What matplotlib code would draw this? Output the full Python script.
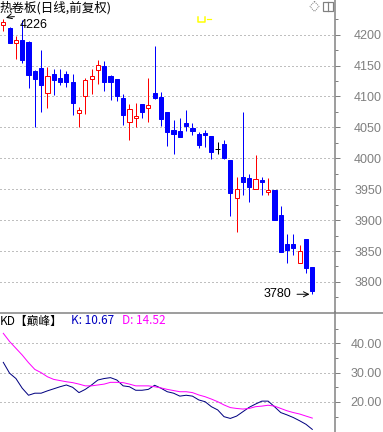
import numpy as np
import matplotlib.pyplot as plt
from matplotlib.patches import Polygon, Rectangle

# daily candles (open, high, low, close)
opens = [4215, 4211, 4187, 4191, 4188, 4141, 4146, 4106, 4136, 4130,
         4136, 4123, 4074, 4101, 4129, 4143, 4149, 4133, 4128, 4098,
         4058, 4065, 4088, 4082, 4106, 4099, 4075, 4046, 4044, 4057,
         4049, 4039, 4041, 4036, 4015, 4023, 3997, 3936, 3969, 3968,
         3951, 3965, 3945, 3949, 3908, 3862, 3862, 3831, 3869, 3824]
highs = [4226, 4212, 4198, 4224, 4190, 4143, 4175, 4148, 4145, 4144,
         4141, 4136, 4083, 4130, 4144, 4159, 4157, 4135, 4128, 4104,
         4088, 4090, 4088, 4130, 4182, 4107, 4075, 4062, 4065, 4078,
         4057, 4043, 4046, 4036, 4026, 4030, 3997, 3969, 4075, 3975,
         4005, 3969, 3968, 3949, 3923, 3877, 3877, 3860, 3869, 3824]
lows = [4206, 4186, 4161, 4155, 4114, 4051, 4075, 4082, 4102, 4119,
        4116, 4070, 4051, 4072, 4104, 4120, 4109, 4094, 4093, 4054,
        4030, 4051, 4065, 4059, 4096, 4052, 4020, 4007, 4034, 4044,
        4038, 4017, 4019, 3999, 4007, 3999, 3907, 3880, 3940, 3930,
        3950, 3941, 3941, 3900, 3849, 3831, 3844, 3831, 3815, 3780]
closes = [4220, 4187, 4191, 4159, 4135, 4128, 4119, 4133, 4126, 4123,
          4123, 4090, 4078, 4127, 4133, 4151, 4123, 4123, 4101, 4070,
          4080, 4068, 4075, 4086, 4098, 4064, 4042, 4039, 4034, 4052,
          4044, 4022, 4037, 4011, 4015, 4001, 3944, 3951, 3961, 3954,
          3966, 3961, 3948, 3900, 3849, 3852, 3855, 3850, 3822, 3786]

# KD indicator
k_vals = [33.5, 29.8, 28.0, 24.7, 22.3, 23.0, 23.0, 23.8, 24.5, 25.2,
          25.8, 25.0, 23.2, 24.3, 25.8, 27.5, 28.0, 28.3, 27.5, 25.5,
          25.2, 24.0, 24.0, 24.3, 25.7, 24.7, 23.5, 23.0, 22.0, 22.3,
          22.0, 20.7, 20.1, 18.4, 17.3, 15.0, 14.4, 15.2, 16.7, 18.2,
          19.3, 20.3, 20.3, 18.4, 16.4, 15.6, 14.7, 13.6, 12.4, 10.67]
d_vals = [43.4, 40.6, 38.3, 36.0, 33.4, 31.1, 30.0, 28.6, 27.7, 27.3,
          26.9, 26.6, 26.1, 25.5, 25.5, 25.8, 26.1, 26.7, 26.7, 26.6,
          26.1, 25.5, 25.5, 25.5, 25.2, 24.8, 24.3, 23.9, 23.5, 23.5,
          23.2, 22.4, 21.8, 21.0, 20.1, 19.0, 18.1, 17.8, 17.6, 17.8,
          18.4, 18.6, 18.9, 18.6, 17.8, 17.0, 16.4, 15.9, 15.2, 14.52]

GRAY = '#808080'
PX = 0.72  # one pixel in points at dpi 100

fig = plt.figure(figsize=(3.83, 4.32), dpi=100)
ax = fig.add_axes([0, 120 / 432, 335 / 383, 312 / 432])
kd = fig.add_axes([0, 0, 335 / 383, 120 / 432])

x = np.arange(len(opens))
o, h, l, c = map(np.array, (opens, highs, lows, closes))
unit_px = 30.9 / 50  # pixels per price unit
min_h = 1.0 / unit_px

for i in x:
    if c[i] > o[i]:
        col, face = '#ff0000', 'white'
    elif c[i] < o[i]:
        col, face = '#0000ff', '#0000ff'
    else:
        col, face = 'black', 'black'
    ax.vlines(i, l[i], h[i], color=col, linewidth=PX, zorder=2)
    if c[i] == o[i]:
        ax.hlines(o[i], i - 0.38, i + 0.38, color=col, linewidth=PX, zorder=3)
        continue
    bottom = min(o[i], c[i])
    height = max(abs(c[i] - o[i]), min_h)
    ax.bar(i, height, bottom=bottom, width=0.66, facecolor=face,
           edgecolor=col, linewidth=PX, zorder=3)

xlim = (-3.3 / 6.306, (335 - 3.3) / 6.306)
ax.set_xlim(*xlim)
ax.set_ylim(4200 - (312 - 34.7) / unit_px, 4200 + 34.7 / unit_px)
kd.set_xlim(*xlim)
kd.set_ylim(20 - 30 / 2.935, 40 + 31.3 / 2.935)

kd.plot(x, k_vals, color='#000080', linewidth=PX)
kd.plot(x, d_vals, color='#ff00ff', linewidth=PX)

for a, majors, minors, fmt in ((ax, np.arange(3800, 4201, 50), np.arange(3775, 4240, 25), '{:.0f}'),
                               (kd, [20, 30, 40], [15, 25, 35, 45], '{:.2f}')):
    a.set_xticks([])
    a.yaxis.tick_right()
    a.set_yticks(majors)
    a.set_yticks(minors, minor=True)
    a.set_yticklabels([fmt.format(v) for v in majors])
    a.tick_params(axis='y', which='major', length=5 * PX, width=PX, color=GRAY,
                  labelcolor=GRAY, labelsize=9, pad=(382 - 335 - 5) * PX)
    a.tick_params(axis='y', which='minor', length=3 * PX, width=PX, color=GRAY)
    for lab in a.get_yticklabels():
        lab.set_horizontalalignment('right')
        lab.set_fontfamily('Liberation Sans')
    a.grid(axis='y', which='major', color=GRAY, linestyle=(0, (1, 3)), linewidth=PX)
    for s in ('top', 'left', 'bottom'):
        a.spines[s].set_visible(False)
    a.spines['right'].set_color(GRAY)
    a.spines['right'].set_linewidth(1.5 * PX)
    a.patch.set_alpha(0)

# high / low labels
ax.annotate('4226', xy=(0, 4226), xytext=(12, -4.6), textcoords='offset points',
            ha='left', va='center', fontsize=9, family='Liberation Sans',
            arrowprops=dict(arrowstyle='->', color='black', lw=0.7,
                            connectionstyle='arc3,rad=0.3'))
ax.annotate('3780', xy=(49, 3780), xytext=(-15, 0), textcoords='offset points',
            ha='right', va='center', fontsize=9, family='Liberation Sans',
            arrowprops=dict(arrowstyle='->', color='black', lw=0.7))

# overlay in pixel coordinates for frame and decorations
ov = fig.add_axes([0, 0, 1, 1])
ov.set_xlim(0, 383)
ov.set_ylim(432, 0)
ov.axis('off')
ov.patch.set_alpha(0)
ov.plot([0, 383], [312.5, 312.5], color=GRAY, linewidth=1.5 * PX)

cjk = ['Noto Sans CJK SC', 'DejaVu Sans']
ov.text(0, 8, '热卷板(日线,前复权)', family=cjk, fontsize=9, va='center', ha='left')
ov.text(0, 321, 'KD【巅峰】', family=cjk, fontsize=8.5, va='center', ha='left')
ov.text(71, 321, 'K: 10.67', family=cjk, fontsize=8.5, va='center', ha='left', color='#0000c0')
ov.text(122, 321, 'D: 14.52', family=cjk, fontsize=8.5, va='center', ha='left', color='#ff00ff')

# toolbar icons
ov.add_patch(Polygon([[314.5, 1.5], [319, 6.5], [314.5, 11.5], [310, 6.5]], closed=True,
                     fill=False, edgecolor=GRAY, linewidth=PX, linestyle=(0, (1, 1))))
ov.add_patch(Rectangle((323, 1.5), 9.5, 9, fill=False, edgecolor=GRAY, linewidth=1.2 * PX))
ov.plot([328, 328], [1.5, 10.5], color=GRAY, linewidth=1.2 * PX)

# small yellow marker
ov.plot([197.5, 197.5, 204.5, 204.5], [17, 22, 22, 17], color='#ffff00', linewidth=1.5 * PX)
ov.plot([207, 211], [18.5, 18.5], color='#ffff00', linewidth=1.2 * PX)

fig.savefig('out.png', dpi=100)
